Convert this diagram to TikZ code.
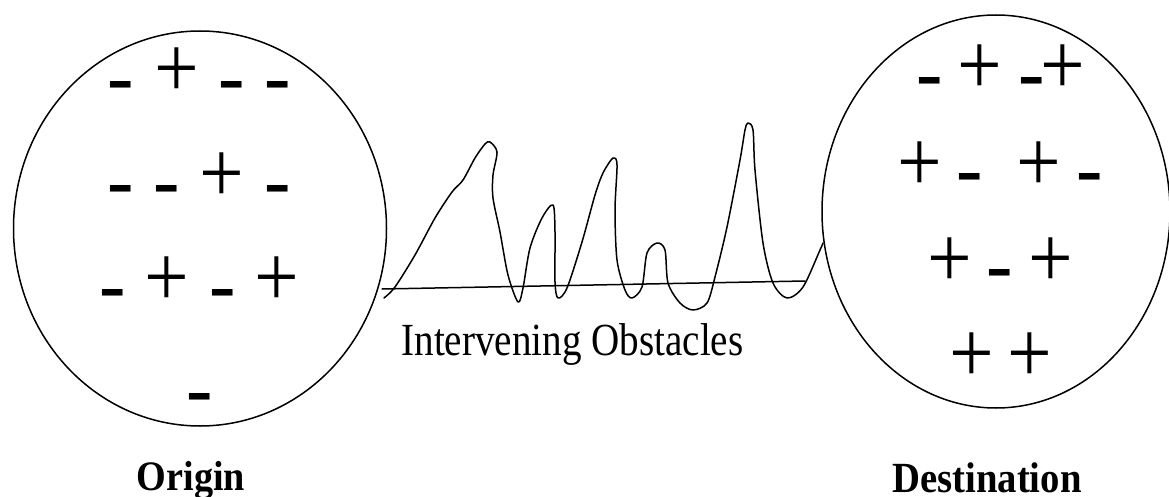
\documentclass[tikz,border=0pt]{standalone}
\usepackage{fontspec}
\setmainfont{Liberation Serif}
\usetikzlibrary{shapes.geometric}
\newcommand{\sgn}[1]{\fontsize{88}{90}\selectfont\scalebox{0.9}[1]{#1}}
\begin{document}
\begin{tikzpicture}[x=1pt,y=-1pt,
  region/.style={draw, ellipse, line width=1.5pt, inner sep=0pt},
  possign/.style={inner sep=0pt, anchor=base, yshift=-22pt},
  negsign/.style={inner sep=0pt, anchor=base, yshift=-20pt},
  lbl/.style={inner sep=0pt, anchor=base},
  curve/.style={line width=1.5pt, line join=round, line cap=round}]
\useasboundingbox (0,0) rectangle (1169,497);
% regions
\node[region, minimum width=373pt, minimum height=395pt] (origin) at (200,228.5) {};
\node[region, minimum width=348pt, minimum height=393pt] (dest) at (996,211.5) {};
% origin charges
\node[negsign] (o11) at (121,86) {\sgn{-}};
\node[possign] (o12) at (177,76) {\sgn{+}};
\node[negsign] (o13) at (232,86) {\sgn{-}};
\node[negsign] (o14) at (278,86) {\sgn{-}};
\node[negsign] (o21) at (121,189) {\sgn{-}};
\node[negsign] (o22) at (167,189) {\sgn{-}};
\node[possign] (o23) at (222,180) {\sgn{+}};
\node[negsign] (o24) at (278,189) {\sgn{-}};
\node[negsign] (o31) at (113,293) {\sgn{-}};
\node[possign] (o32) at (167,284) {\sgn{+}};
\node[negsign] (o33) at (223,293) {\sgn{-}};
\node[possign] (o34) at (277,284) {\sgn{+}};
\node[negsign] (o41) at (200,397) {\sgn{-}};
% destination charges
\node[negsign] (d11) at (930,82) {\sgn{-}};
\node[possign] (d12) at (980,73) {\sgn{+}};
\node[negsign] (d13) at (1032,82) {\sgn{-}};
\node[possign] (d14) at (1063,73) {\sgn{+}};
\node[possign] (d21) at (920,170) {\sgn{+}};
\node[negsign] (d22) at (970,177) {\sgn{-}};
\node[possign] (d23) at (1039,170) {\sgn{+}};
\node[negsign] (d24) at (1090,177) {\sgn{-}};
\node[possign] (d31) at (950,265) {\sgn{+}};
\node[negsign] (d32) at (1000,273) {\sgn{-}};
\node[possign] (d33) at (1051,265) {\sgn{+}};
\node[possign] (d41) at (972,360) {\sgn{+}};
\node[possign] (d42) at (1030,360) {\sgn{+}};
% obstacles
\draw[curve] (382,289) -- (805,281);
\draw[curve] plot[smooth, tension=0.5] coordinates {
 (384,298) (395,287) (415,255) (435,218) (452,192) (463,180) (475,158)
 (485,144) (490,142) (497,152) (493,175) (493,198) (500,232) (508,275)
 (518,302) (523,288) (530,248) (542,218) (553,205) (555,232) (555,282)
 (558,298) (567,288) (582,242) (595,195) (603,173) (613,158) (617,165)
 (615,210) (617,260) (625,290) (632,298) (642,287) (647,253) (657,243)
 (665,250) (668,283) (680,303) (693,310) (707,303) (715,277) (727,227)
 (740,160) (745,130) (748,123) (753,130) (755,170) (763,243) (773,283)
 (787,298) (803,287) (820,250) (823,243)};
% labels
\node[lbl] (obst) at (572.5,355) {\fontsize{46}{50}\selectfont\scalebox{0.85}[1]{Intervening Obstacles}};
\node[lbl] (olbl) at (191,490) {\fontsize{42}{46}\selectfont\bfseries\scalebox{0.91}[1]{Origin}};
\node[lbl] (dlbl) at (987,492) {\fontsize{43}{47}\selectfont\bfseries\scalebox{0.9}[1]{Destination}};
\end{tikzpicture}
\end{document}
